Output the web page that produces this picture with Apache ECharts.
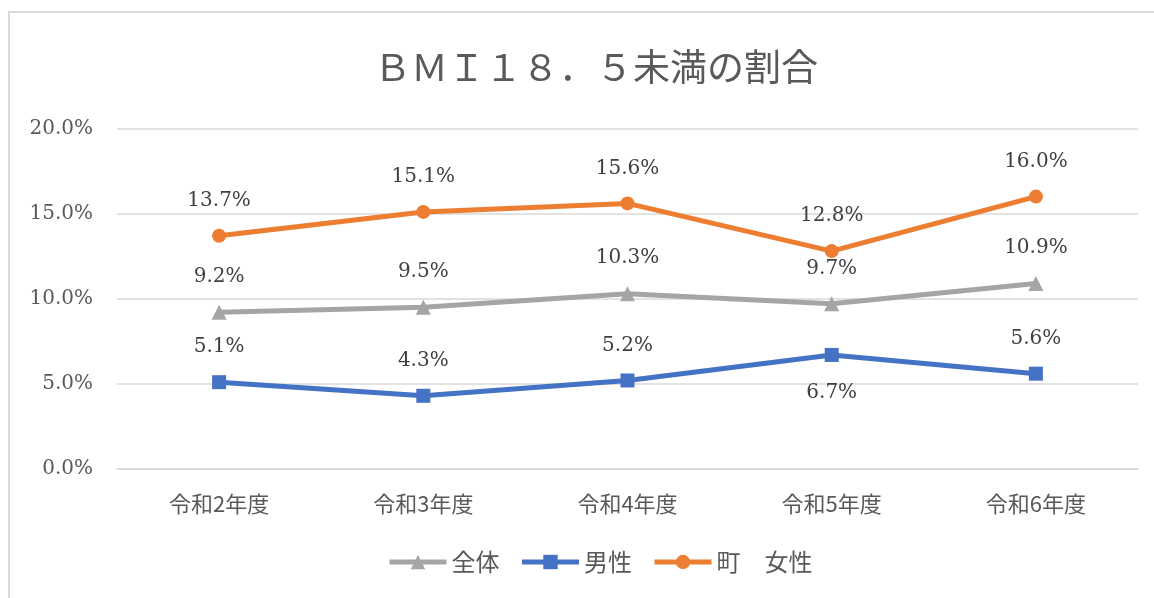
<!DOCTYPE html>
<html>
<head>
    <meta charset="UTF-8">
    <title>BMI18.5未満の割合</title>
    <script src="https://cdn.jsdelivr.net/npm/echarts/dist/echarts.min.js"></script>
    <style>
        html, body { margin: 0; padding: 0; background: #fff; }
        #main { width: 1154px; height: 598px; }
    </style>
</head>
<body>
    <div id="main"></div>
    <script type="text/javascript">
        // chart data
        const years = ['令和2年度', '令和3年度', '令和4年度', '令和5年度', '令和6年度'];
        const seriesNames = ['全体', '男性', '町　女性'];
        const totalVals = [9.2, 9.5, 10.3, 9.7, 10.9];
        const maleVals = [5.1, 4.3, 5.2, 6.7, 5.6];
        const femaleVals = [13.7, 15.1, 15.6, 12.8, 16.0];
        const yTicks = [0, 5, 10, 15, 20];

        const numFont = '"DejaVu Serif", "Noto Sans CJK JP", serif';
        const cjkFont = '"Noto Sans CJK JP", "DejaVu Serif", sans-serif';
        const textColor = '#595959';

        function labelled(vals, belowIdx) {
            return vals.map((v, i) => {
                let item = { value: v };
                if (i === belowIdx) {
                    item.label = { position: 'bottom', distance: 21 };
                }
                return item;
            });
        }

        function makeSeries(name, vals, color, symbol, size, belowIdx) {
            return {
                name: name,
                type: 'line',
                data: labelled(vals, belowIdx),
                symbol: symbol,
                symbolSize: size,
                lineStyle: { color: color, width: 5 },
                itemStyle: { color: color },
                label: {
                    show: true,
                    position: 'top',
                    distance: 18,
                    color: '#404040',
                    fontFamily: numFont,
                    fontSize: 20,
                    formatter: p => p.value.toFixed(1) + '%'
                },
                emphasis: { disabled: true },
                animation: false
            };
        }

        let chart = echarts.init(document.getElementById('main'));

        let option = {
            backgroundColor: '#fff',
            title: {
                text: 'ＢＭＩ１８．５未満の割合',
                left: 369,
                top: 43,
                textStyle: {
                    fontFamily: cjkFont,
                    fontSize: 37,
                    fontWeight: 'normal',
                    color: textColor
                }
            },
            graphic: [{
                type: 'rect',
                shape: { x: 9, y: 12, width: 1200, height: 620 },
                style: { fill: 'none', stroke: '#d9d9d9', lineWidth: 2 },
                silent: true
            }],
            legend: {
                bottom: 19,
                left: 382,
                data: seriesNames,
                itemWidth: 57,
                itemHeight: 18,
                itemGap: 20,
                lineStyle: { width: 5 },
                textStyle: { fontFamily: cjkFont, fontSize: 24, color: textColor }
            },
            grid: {
                left: 117,
                right: 16,
                top: 128.5,
                bottom: 129
            },
            xAxis: {
                type: 'category',
                data: years,
                boundaryGap: true,
                axisLine: { show: true, lineStyle: { color: '#d9d9d9', width: 1.5 } },
                axisTick: { show: false },
                axisLabel: {
                    fontFamily: cjkFont,
                    fontSize: 22,
                    color: textColor,
                    margin: 24
                }
            },
            yAxis: {
                type: 'value',
                min: yTicks[0],
                max: yTicks[yTicks.length - 1],
                interval: 5,
                axisLine: { show: false },
                axisTick: { show: false },
                splitLine: { lineStyle: { color: '#d9d9d9', width: 1.5 } },
                axisLabel: {
                    fontFamily: numFont,
                    fontSize: 20,
                    color: textColor,
                    margin: 24,
                    formatter: v => v.toFixed(1) + '%'
                }
            },
            series: [
                makeSeries(seriesNames[0], totalVals, '#a5a5a5', 'triangle', 15, -1),
                makeSeries(seriesNames[1], maleVals, '#4472c4', 'rect', 14, 3),
                makeSeries(seriesNames[2], femaleVals, '#ed7d31', 'circle', 14, -1)
            ]
        };

        chart.setOption(option);
    </script>
</body>
</html>
